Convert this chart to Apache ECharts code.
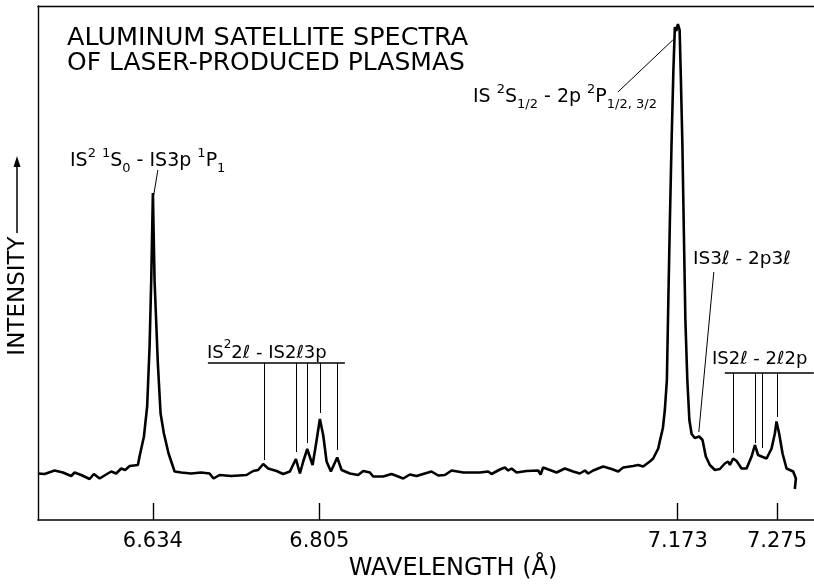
<!DOCTYPE html>
<html>
<head>
<meta charset="utf-8">
<script src="https://cdn.jsdelivr.net/npm/echarts@6/dist/echarts.min.js"></script>
<style>html,body{margin:0;padding:0;background:#fff;}#c{width:814px;height:584px;}</style>
</head>
<body>
<div id="c"></div>
<script>
// ---- data ----
const wavelength = [6.5159,6.5228,6.5330,6.5416,6.5501,6.5536,6.5604,6.5690,6.5734,6.5793,6.5860,6.5912,6.5963,6.6014,6.6056,6.6101,6.6186,6.6203,6.6248,6.6281,6.6306,6.6323,6.6340,6.6357,6.6391,6.6419,6.6453,6.6501,6.6563,6.6631,6.6733,6.6836,6.6922,6.6963,6.7025,6.7144,6.7302,6.7370,6.7421,6.7473,6.7524,6.7610,6.7678,6.7747,6.7809,6.7850,6.7884,6.7925,6.7980,6.8014,6.8055,6.8089,6.8124,6.8168,6.8233,6.8278,6.8363,6.8448,6.8500,6.8569,6.8602,6.8705,6.8791,6.8859,6.8911,6.8979,6.9048,6.9116,6.9202,6.9270,6.9339,6.9408,6.9527,6.9698,6.9784,6.9818,6.9904,6.9955,6.9989,7.0024,7.0075,7.0178,7.0297,7.0322,7.0348,7.0417,7.0486,7.0571,7.0656,7.0725,7.0777,7.0811,7.0862,7.0965,7.1051,7.1119,7.1170,7.1273,7.1324,7.1375,7.1444,7.1478,7.1530,7.1547,7.1578,7.1598,7.1619,7.1634,7.1650,7.1667,7.1686,7.1701,7.1716,7.1732,7.1750,7.1763,7.1778,7.1793,7.1809,7.1829,7.1850,7.1873,7.1906,7.1951,7.1985,7.2019,7.2060,7.2112,7.2163,7.2214,7.2248,7.2266,7.2300,7.2335,7.2386,7.2437,7.2489,7.2523,7.2556,7.2591,7.2643,7.2694,7.2728,7.2745,7.2772,7.2807,7.2848,7.2882,7.2916,7.2944,7.2933];
const intensity = [9.3,9.2,9.9,9.5,8.8,9.5,9.0,8.2,9.2,8.3,9.1,9.7,9.3,10.3,10.0,10.8,11.0,12.7,16.7,22.7,34.7,48.0,65.4,48.0,31.3,21.3,17.3,13.3,9.7,9.5,9.3,9.5,9.3,8.3,9.0,8.8,9.0,9.8,10.0,11.2,10.3,9.8,9.2,9.7,12.2,9.3,11.7,14.2,11.0,15.0,20.2,17.0,11.7,9.7,12.5,10.0,9.3,9.0,9.8,9.5,8.7,8.7,9.2,8.7,8.3,9.1,8.8,9.2,9.7,8.9,9.0,9.9,9.5,9.5,9.7,9.2,10.1,10.5,9.9,10.3,9.5,9.8,9.9,9.1,10.5,10.0,9.5,10.3,9.7,9.3,9.9,9.3,9.9,10.7,10.2,9.7,10.5,10.8,11.0,10.7,11.7,12.3,14.3,15.8,18.4,22.0,28.0,44.0,60.0,75.4,90.0,98.6,97.8,99.2,98.0,88.0,75.4,58.0,40.0,28.0,20.0,17.2,16.4,16.7,16.0,12.7,11.0,10.0,10.2,11.3,11.7,11.0,12.3,11.8,10.3,10.3,12.7,15.0,13.0,12.7,12.3,14.3,17.3,19.7,17.3,13.3,10.3,10.0,9.7,8.3,6.2];

const tickValues = [6.634, 6.805, 7.173, 7.275];

// line-identification markers: IS²2ℓ-IS2ℓ3p group
const groupAX = [6.7480, 6.7809, 6.7922, 6.8055, 6.8230];
const groupABottom = [12.0, 13.6, 15.4, 21.4, 14.0];
const groupABar = {from: 6.6905, to: 6.8312, level: 31.4};
// IS2ℓ-2ℓ2p group
const groupBX = [7.2297, 7.2523, 7.2594, 7.2748];
const groupBBottom = [13.4, 15.4, 14.4, 20.6];
const groupBBar = {from: 7.2214, to: 7.3128, level: 29.4};
// leader lines [[w,i],[w,i]]
const leaders = [
  [[6.6391, 70.0], [6.6340, 64.0]],
  [[7.1116, 85.6], [7.1680, 96.0]],
  [[7.2101, 49.6], [7.1947, 17.6]]
];

const titleLines = ['ALUMINUM SATELLITE SPECTRA', 'OF LASER-PRODUCED PLASMAS'];
const xName = 'WAVELENGTH (Å)';
const yName = 'INTENSITY';

// ---- build ----
const FONT = '"DejaVu Sans", sans-serif';
const curve = wavelength.map((w, i) => [w, intensity[i]]);
const markerLines = [];
markerLines.push({coords: [[groupABar.from, groupABar.level], [groupABar.to, groupABar.level]], lineStyle: {width: 1.5}});
groupAX.forEach((w, i) => markerLines.push({coords: [[w, groupABar.level], [w, groupABottom[i]]]}));
markerLines.push({coords: [[groupBBar.from, groupBBar.level], [groupBBar.to, groupBBar.level]], lineStyle: {width: 1.5}});
groupBX.forEach((w, i) => markerLines.push({coords: [[w, groupBBar.level], [w, groupBBottom[i]]]}));
leaders.forEach(l => markerLines.push({coords: l}));

const rich = (size) => ({
  a: {fontSize: size, fontFamily: FONT, color: '#000', lineHeight: 28, verticalAlign: 'middle'},
  sup: {fontSize: Math.round(size * 0.68), fontFamily: FONT, color: '#000', lineHeight: 13, verticalAlign: 'top'},
  sub: {fontSize: Math.round(size * 0.68), fontFamily: FONT, color: '#000', lineHeight: 12, verticalAlign: 'bottom'}
});

function label(x, y, text, size) {
  return {type: 'text', x: x, y: y, silent: true,
    style: {text: text, rich: rich(size), align: 'left', verticalAlign: 'middle', fill: '#000', font: size + 'px ' + FONT}};
}

const chart = echarts.init(document.getElementById('c'), null, {renderer: 'canvas'});
chart.setOption({
  animation: false,
  backgroundColor: '#fff',
  grid: {left: 38, right: 0, top: 6, bottom: 64, containLabel: false},
  xAxis: [{
    type: 'value', min: 6.516, max: 7.313, position: 'bottom',
    axisLine: {show: true, lineStyle: {color: '#000', width: 1.6}},
    axisTick: {show: true, inside: true, length: 17, customValues: tickValues, lineStyle: {color: '#000', width: 1.4}},
    axisLabel: {show: true, customValues: tickValues, margin: 11, fontSize: 21, fontFamily: FONT, color: '#000',
      formatter: v => v.toFixed(3)},
    splitLine: {show: false}
  }, {
    type: 'value', min: 6.516, max: 7.313, position: 'top',
    axisLine: {show: true, lineStyle: {color: '#000', width: 1.4}},
    axisTick: {show: false}, axisLabel: {show: false}, splitLine: {show: false}
  }],
  yAxis: {
    type: 'value', min: 0, max: 102.8,
    axisLine: {show: true, lineStyle: {color: '#000', width: 1.4}},
    axisTick: {show: false}, axisLabel: {show: false}, splitLine: {show: false}
  },
  series: [{
    type: 'line', data: curve, xAxisIndex: 0, showSymbol: false, smooth: false,
    lineStyle: {color: '#000', width: 2.6}, z: 3
  }, {
    type: 'lines', coordinateSystem: 'cartesian2d', xAxisIndex: 0, silent: true,
    lineStyle: {color: '#000', width: 1, opacity: 1, curveness: 0},
    data: markerLines, z: 2
  }],
  graphic: [
    {type: 'text', x: 67, y: 38, silent: true, style: {text: titleLines[0], font: '25.5px ' + FONT, fill: '#000', verticalAlign: 'middle'}},
    {type: 'text', x: 67, y: 63, silent: true, style: {text: titleLines[1], font: '25px ' + FONT, fill: '#000', verticalAlign: 'middle'}},
    {type: 'text', x: 453, y: 569, silent: true, style: {text: xName, font: '24px ' + FONT, fill: '#000', align: 'center', verticalAlign: 'middle'}},
    {type: 'text', x: 18, y: 296, rotation: Math.PI / 2, silent: true, style: {text: yName, font: '23px ' + FONT, fill: '#000', align: 'center', verticalAlign: 'middle'}},
    {type: 'line', silent: true, shape: {x1: 17, y1: 233, x2: 17, y2: 164}, style: {stroke: '#000', lineWidth: 1.5}},
    {type: 'polygon', silent: true, shape: {points: [[17, 156], [13.5, 167], [20.5, 167]]}, style: {fill: '#000'}},
    label(70, 161, '{a|IS}{sup|2} {sup|1}{a|S}{sub|0}{a| - IS3p }{sup|1}{a|P}{sub|1}', 19),
    label(473, 97, '{a|IS }{sup|2}{a|S}{sub|1/2}{a| - 2p }{sup|2}{a|P}{sub|1/2, 3/2}', 19),
    label(693, 259, '{a|IS3ℓ - 2p3ℓ}', 18.5),
    label(712, 359, '{a|IS2ℓ - 2ℓ2p}', 18),
    label(207, 353, '{a|IS}{sup|2}{a|2ℓ - IS2ℓ3p}', 18)
  ]
});
</script>
</body>
</html>
